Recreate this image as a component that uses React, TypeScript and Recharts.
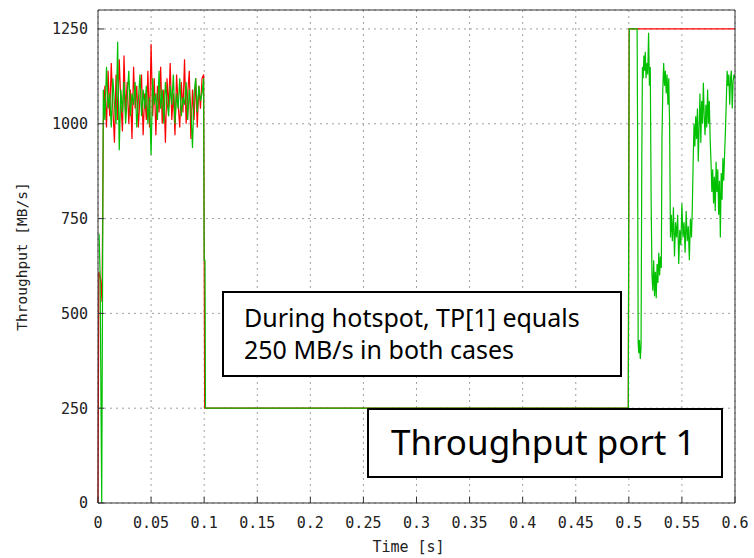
import { LineChart, Line, XAxis, YAxis, CartesianGrid } from 'recharts';

const xTicks = [0, 0.05, 0.1, 0.15, 0.2, 0.25, 0.3, 0.35, 0.4, 0.45, 0.5, 0.55, 0.6];
const yTicks = [0, 250, 500, 750, 1000, 1250];

// sample times of the noisy start phase (shared by both runs)
const burstTimes = [
  0.005, 0.0065, 0.008, 0.0095, 0.011, 0.0125, 0.014, 0.0155, 0.017, 0.0185, 0.02, 0.0215, 0.023,
  0.0245, 0.026, 0.0275, 0.029, 0.0305, 0.032, 0.0335, 0.035, 0.0365, 0.038, 0.0395, 0.041, 0.0425,
  0.044, 0.0455, 0.047, 0.0485, 0.05, 0.0515, 0.053, 0.0545, 0.056, 0.0575, 0.059, 0.0605, 0.062,
  0.0635, 0.065, 0.0665, 0.068, 0.0695, 0.071, 0.0725, 0.074, 0.0755, 0.077, 0.0785, 0.08, 0.0815,
  0.083, 0.0845, 0.086, 0.0875, 0.089, 0.0905, 0.092, 0.0935, 0.095, 0.0965, 0.098,
];
const redBurst = [
  1000, 1100, 990, 1140, 1020, 1160, 1040, 950, 1130, 1010, 1170, 1060, 980, 1180, 1030, 1110, 1000,
  1090, 960, 1150, 1040, 1100, 990, 1070, 1130, 970, 1080, 1010, 1140, 990, 1210, 1020, 1120, 970,
  1100, 1030, 1150, 1000, 1090, 950, 1120, 1040, 1160, 1010, 1080, 970, 1130, 1050, 990, 1110, 1030,
  1170, 1000, 1080, 1140, 960, 1090, 1010, 1120, 990, 1100, 1040, 1120,
];
const greenBurst = [
  1090, 1010, 1150, 1040, 1080, 990, 1120, 1050, 1000, 1216, 930, 1090, 1030, 1110, 1000, 1070, 1140,
  1020, 1080, 1050, 1110, 990, 1060, 1130, 1020, 1090, 1040, 1100, 1000, 1070, 918, 1120, 1050, 1080,
  1010, 1140, 1040, 1090, 1000, 1110, 1060, 1020, 1100, 1050, 1130, 1000, 1080, 1040, 1120, 1020,
  1070, 1050, 1110, 1010, 1090, 1040, 936, 1080, 1120, 1030, 1100, 1060, 1080,
];

// [time, MB/s]
const redStart = [[0, 0], [0.0008, 610], [0.0025, 590], [0.0038, 530]];
const redEnd = [[0.0995, 1130], [0.1005, 250], [0.4995, 250], [0.5, 886], [0.5003, 1250], [0.6, 1250]];
const greenStart = [[0.001, 710], [0.002, 600], [0.0035, 0]];
const greenHotspot = [
  [0.0995, 1120], [0.1, 640], [0.1008, 640], [0.1012, 250], [0.4995, 250], [0.5, 880], [0.5004, 1250],
  [0.5078, 1250],
];
const greenRecovery = [
  [0.5082, 1000], [0.5088, 420], [0.5094, 395], [0.51, 430], [0.5108, 380], [0.5115, 410], [0.5122, 900],
  [0.5128, 1150], [0.5135, 1120], [0.5142, 1180], [0.5148, 1140], [0.5155, 1190], [0.5162, 1120],
  [0.517, 1160], [0.5178, 1130], [0.5186, 1240], [0.5194, 1100], [0.5202, 1150], [0.521, 800],
  [0.5218, 600], [0.5226, 560], [0.5234, 640], [0.5242, 545], [0.525, 610], [0.5258, 540], [0.5266, 630],
  [0.5274, 580], [0.5282, 660], [0.529, 600], [0.5298, 650], [0.5306, 620], [0.5312, 960], [0.532, 1090],
  [0.5328, 1160], [0.5336, 1100], [0.5344, 1140], [0.5352, 1080], [0.536, 1130], [0.5368, 1050],
  [0.5376, 1120], [0.5384, 1000], [0.5392, 700], [0.54, 760], [0.541, 690], [0.542, 780], [0.543, 650],
  [0.544, 740], [0.545, 700], [0.546, 760], [0.547, 630], [0.548, 720], [0.549, 680], [0.55, 790],
  [0.551, 700], [0.552, 740], [0.553, 660], [0.554, 770], [0.555, 690], [0.556, 730], [0.557, 640],
  [0.558, 750], [0.559, 700], [0.5598, 780], [0.5606, 900], [0.5614, 1000], [0.5622, 940], [0.563, 1020],
  [0.5638, 960], [0.5646, 1040], [0.5654, 900], [0.5662, 990], [0.567, 1080], [0.5678, 950],
  [0.5686, 1060], [0.5694, 1000], [0.5702, 1108], [0.571, 1020], [0.5718, 970], [0.5726, 1050],
  [0.5734, 990], [0.5742, 1090], [0.575, 1000], [0.5758, 1060], [0.5766, 960], [0.5774, 900],
  [0.5782, 820], [0.579, 880], [0.5798, 790], [0.5806, 860], [0.5814, 770], [0.5822, 900], [0.583, 820],
  [0.5838, 880], [0.5846, 760], [0.5854, 850], [0.5862, 700], [0.587, 870], [0.5878, 800], [0.5886, 910],
  [0.5894, 850], [0.5902, 920], [0.591, 980], [0.5918, 1060], [0.5926, 1140], [0.5934, 1100],
  [0.5942, 1130], [0.595, 1050], [0.5958, 1120], [0.5966, 1140], [0.5974, 1040], [0.5982, 1110],
  [0.599, 1130], [0.5998, 1120],
];

const pts = (pairs: number[][]) => pairs.map(([t, v]) => ({ t, v }));
const redData = [...pts(redStart), ...burstTimes.map((t, i) => ({ t, v: redBurst[i] })), ...pts(redEnd)];
const greenData = [
  ...pts(greenStart),
  ...burstTimes.map((t, i) => ({ t, v: greenBurst[i] })),
  ...pts(greenHotspot),
  ...pts(greenRecovery),
];

const mono = "'DejaVu Sans Mono', monospace";
const tickStyle = { fill: '#222', fontSize: 15, fontFamily: mono };
const noLabel = () => <g />;
const fmtX = (v: number) => String(+v.toFixed(2));

const boxStyle: React.CSSProperties = {
  position: 'absolute',
  background: '#fff',
  border: '2px solid #000',
  boxSizing: 'border-box',
  fontFamily: "'Comic Sans MS', 'Noto Sans', sans-serif",
  color: '#000',
  whiteSpace: 'nowrap',
};

export default function App() {
  return (
    <div style={{ position: 'absolute', left: 0, top: 0, width: 754, height: 558, background: '#fff' }}>
      <LineChart width={754} height={558} margin={{ top: 9, right: 18, bottom: 25, left: 8 }}>
        <CartesianGrid xAxisId="b" yAxisId="l" stroke="#a0a0a0" strokeDasharray="2 4" />
        <XAxis
          xAxisId="b"
          dataKey="t"
          type="number"
          domain={[0, 0.6]}
          ticks={xTicks}
          tickFormatter={fmtX}
          height={30}
          stroke="#333"
          tickSize={-6}
          tickMargin={20}
          tick={tickStyle}
          label={{ value: 'Time [s]', position: 'bottom', offset: 8, dx: -8, style: { fill: '#222', fontSize: 15, fontFamily: mono } }}
        />
        <XAxis
          xAxisId="t"
          orientation="top"
          dataKey="t"
          type="number"
          domain={[0, 0.6]}
          ticks={xTicks}
          height={1}
          stroke="#333"
          tickSize={-6}
          tick={noLabel}
        />
        <YAxis
          yAxisId="l"
          type="number"
          domain={[0, 1300]}
          ticks={yTicks}
          width={90}
          stroke="#333"
          tickSize={-6}
          tickMargin={16}
          tick={tickStyle}
          label={{
            value: 'Throughput [MB/s]',
            angle: -90,
            position: 'insideLeft',
            offset: 14,
            style: { textAnchor: 'middle', fill: '#222', fontSize: 14.5, fontFamily: mono },
          }}
        />
        <YAxis
          yAxisId="r"
          orientation="right"
          type="number"
          domain={[0, 1300]}
          ticks={yTicks}
          width={1}
          stroke="#333"
          tickSize={-6}
          tick={noLabel}
        />
        <Line
          xAxisId="b"
          yAxisId="l"
          data={redData}
          dataKey="v"
          type="linear"
          stroke="#ff0000"
          strokeWidth={1.2}
          dot={false}
          isAnimationActive={false}
        />
        <Line
          xAxisId="b"
          yAxisId="l"
          data={greenData}
          dataKey="v"
          type="linear"
          stroke="#00c000"
          strokeWidth={1.2}
          dot={false}
          isAnimationActive={false}
        />
      </LineChart>
      <div style={{ ...boxStyle, left: 222, top: 291, width: 400, height: 86, padding: '8px 0 0 20px', fontSize: 25, lineHeight: '32px' }}>
        During hotspot, TP[1] equals
        <br />
        250 MB/s in both cases
      </div>
      <div style={{ ...boxStyle, left: 367, top: 408, width: 356, height: 70, padding: '14px 0 0 22px', fontSize: 35, lineHeight: '35px' }}>
        Throughput port 1
      </div>
    </div>
  );
}
